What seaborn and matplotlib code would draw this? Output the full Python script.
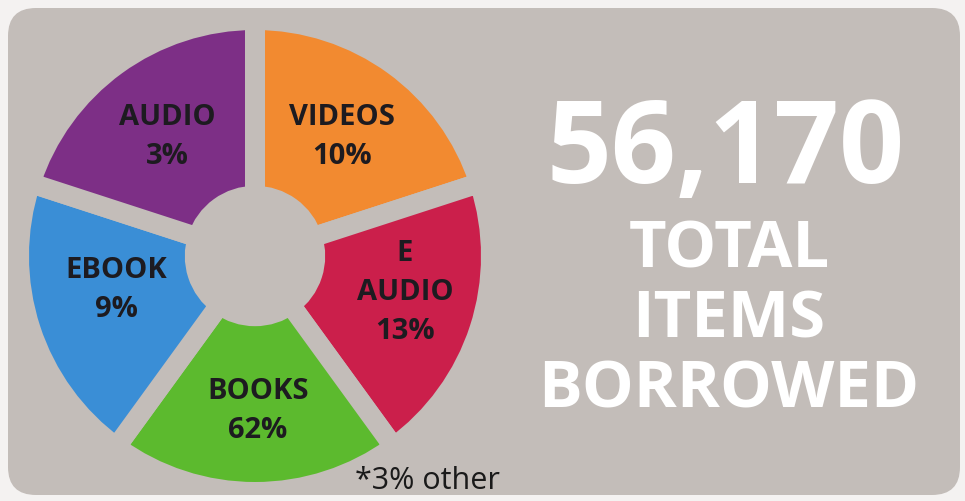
import matplotlib
matplotlib.use("Agg")
import numpy as np
import matplotlib.pyplot as plt
import matplotlib.transforms as mtransforms
import seaborn as sns
from matplotlib.patches import FancyBboxPatch

# data
# (the original draws every wedge the same size, whatever its share)
categories = ["VIDEOS", "E\nAUDIO", "BOOKS", "EBOOK", "AUDIO"]
percent_labels = ["10%", "13%", "62%", "9%", "3%"]
slice_weights = [1, 1, 1, 1, 1]
slice_colors = ["#f28a30", "#cb1f4b", "#5cba2e", "#3a8ed6", "#7d2f86"]
total_items = "56,170"
total_caption = ["TOTAL", "ITEMS", "BORROWED"]
footnote = "*3% other"

# layout: small nudges (px right, px down) so the labels sit like the original
label_nudge = [(-4, 6), (3, -11), (3, 0), (8, -14), (3, 6)]

PANEL = "#c3bdb9"
OUTSIDE = "#f4f2f1"
W, H = 965, 501

sns.set_theme(style="white")
plt.rcParams["font.family"] = ["Open Sans", "DejaVu Sans"]

fig = plt.figure(figsize=(W / 100, H / 100), dpi=100)
fig.patch.set_facecolor(OUTSIDE)

# rounded grey card behind everything (pixel coords)
card = FancyBboxPatch((8, 6), 952, 487, boxstyle="round,pad=0,rounding_size=28",
                      transform=None, facecolor=PANEL, edgecolor="none", zorder=0)
fig.add_artist(card)

# pie axes: centre (255, 256) from top-left; wedge radius 236 px, of which the
# outer 10 px are hidden under the grey gap stroke, so clip the axes at 226 px
R, Rv = 236, 226
cx, cy = 255, H - 256
ax = fig.add_axes([(cx - Rv) / W, (cy - Rv) / H, 2 * Rv / W, 2 * Rv / H])
wedges, _ = ax.pie(slice_weights, colors=slice_colors, startangle=90,
                   counterclock=False, radius=1,
                   wedgeprops=dict(width=0.745, edgecolor=PANEL, linewidth=14.4))
for w in wedges:
    w.set_clip_on(True)  # pie turns clipping off; keep the gap stroke inside
ax.set_xlim(-Rv / R, Rv / R)
ax.set_ylim(-Rv / R, Rv / R)
ax.set_aspect("equal")

for w, cat, pct, (dx, dy) in zip(wedges, categories, percent_labels, label_nudge):
    theta = np.deg2rad((w.theta1 + w.theta2) / 2)
    shift = mtransforms.ScaledTranslation(dx / 100, -dy / 100, fig.dpi_scale_trans)
    ax.text(0.655 * np.cos(theta), 0.655 * np.sin(theta), f"{cat}\n{pct}",
            ha="center", va="center", fontsize=21, fontweight="bold",
            color="#1d1b20", linespacing=1.45, transform=ax.transData + shift)

fig.text(355 / W, 1 - 489 / H, footnote, ha="left", va="baseline",
         fontsize=22, color="#1a1a1a")

# big total on the right
fig.text(725 / W, 1 - 183 / H, total_items, ha="center", va="baseline",
         fontsize=82, fontweight="bold", color="white")
for line, base in zip(total_caption, [267, 338, 407]):
    fig.text(729 / W, 1 - base / H, line, ha="center", va="baseline",
             fontsize=47, fontweight="bold", color="white")

fig.savefig("out.png", dpi=100, facecolor=OUTSIDE)
